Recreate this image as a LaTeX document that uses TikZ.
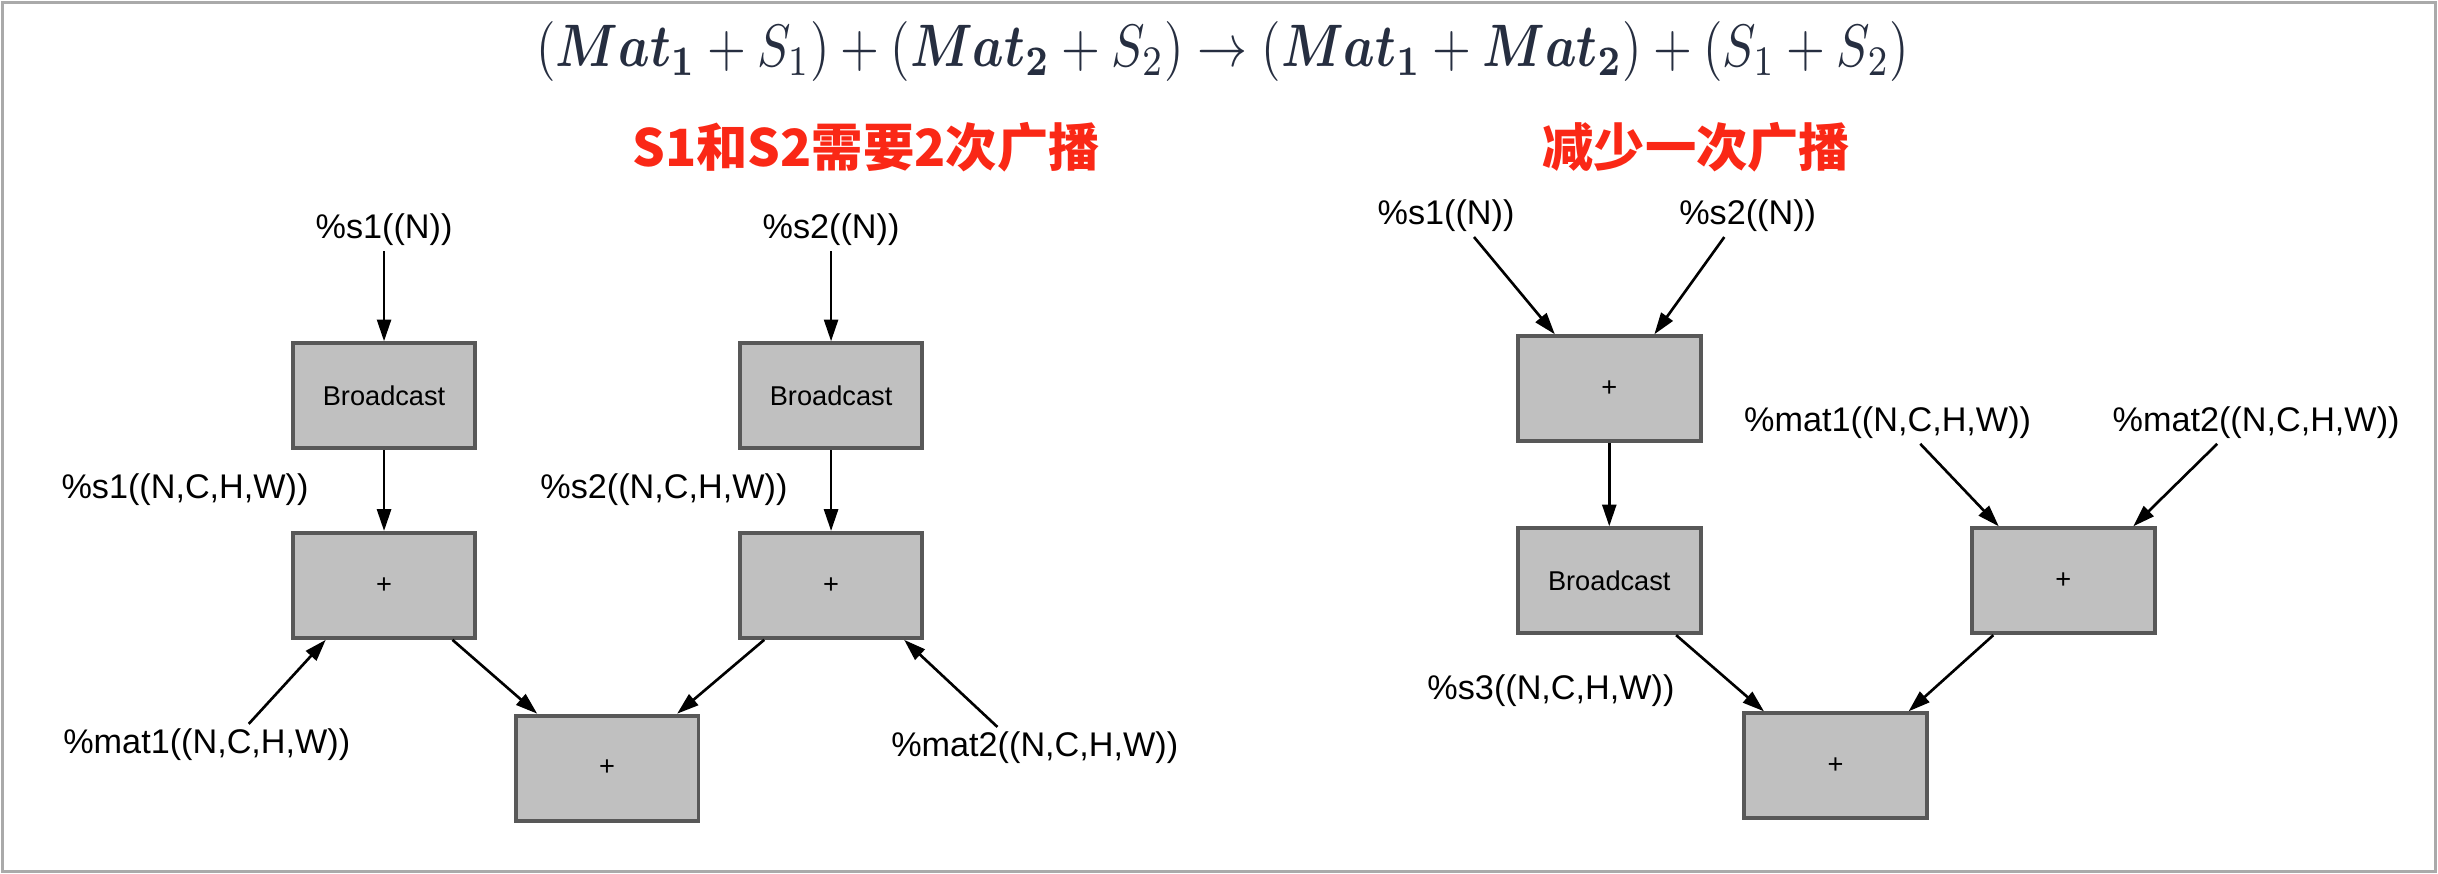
\documentclass[tikz,border=0pt]{standalone}
\usepackage{amsmath}
\usepackage{graphicx}
\usepackage{fontspec}
\setmainfont{Liberation Sans}
\newfontfamily\cjk{Noto Sans CJK SC}
\usetikzlibrary{arrows.meta}
\definecolor{boxfill}{RGB}{192,192,192}
\definecolor{boxdraw}{RGB}{88,88,88}
\definecolor{headred}{RGB}{250,40,22}
\definecolor{mathcol}{RGB}{38,46,64}
\definecolor{framecol}{RGB}{170,170,170}
\begin{document}
\begin{tikzpicture}[x=1pt,y=-1pt,
 opbox/.style={draw=boxdraw,fill=boxfill,line width=2.5pt,minimum width=117.5pt,minimum height=67.5pt,inner sep=0pt,font=\fontsize{17.5}{20}\selectfont},
 lbl/.style={inner sep=3pt,font=\fontsize{22}{26}\selectfont},
 conn/.style={-{Triangle[length=14pt,width=9pt]},line width=1.7pt},
 head/.style={text=headred,font=\cjk\bfseries\fontsize{33}{40}\selectfont}]
\path[use as bounding box] (0,0) rectangle (1568,562);
\draw[framecol,line width=2pt] (1.5,1.5) rectangle (1566.5,560.5);

% title and headings
\node[text=mathcol] (title) at (786.5,33) {\scalebox{1}[1.2]{\resizebox{883pt}{!}{$(\boldsymbol{Mat_1}+S_1)+(\boldsymbol{Mat_2}+S_2)\rightarrow(\boldsymbol{Mat_1}+\boldsymbol{Mat_2})+(S_1+S_2)$}}};
\node[head] (h1) at (557,95) {S1和S2需要2次广播};
\node[head] (h2) at (1091,95) {减少一次广播};

% left graph
\node[lbl] (s1n) at (247,148) {\%s1((N))};
\node[lbl] (s2n) at (534.5,148) {\%s2((N))};
\node[opbox] (b1) at (247,254.5) {Broadcast};
\node[opbox] (b2) at (534.5,254.5) {Broadcast};
\node[lbl] (s1c) at (119,315) {\%s1((N,C,H,W))};
\node[lbl] (s2c) at (427,315) {\%s2((N,C,H,W))};
\node[opbox] (p1) at (247,376.5) {+};
\node[opbox] (p2) at (534.5,376.5) {+};
\node[opbox] (p3) at (390.5,494) {+};
\node[lbl] (m1) at (133,479) {\%mat1((N,C,H,W))};
\node[lbl] (m2) at (665.5,481) {\%mat2((N,C,H,W))};

\draw[conn] (s1n) -- (b1);
\draw[conn] (s2n) -- (b2);
\draw[conn] (b1) -- (p1);
\draw[conn] (b2) -- (p2);
\draw[conn] ([xshift=44pt]p1.south) -- ([xshift=-45pt]p3.north);
\draw[conn] ([xshift=-43pt]p2.south) -- ([xshift=45pt]p3.north);
\draw[conn] ([xshift=27pt]m1.north) -- ([xshift=-37.5pt]p1.south);
\draw[conn] ([xshift=-24pt]m2.north) -- ([xshift=47pt]p2.south);

% right graph
\node[lbl] (rs1) at (930,139) {\%s1((N))};
\node[lbl] (rs2) at (1124,139) {\%s2((N))};
\node[opbox] (q1) at (1035,250) {+};
\node[opbox] (q2) at (1035,373.5) {Broadcast};
\node[lbl] (rm1) at (1214,272) {\%mat1((N,C,H,W))};
\node[lbl] (rm2) at (1451,272) {\%mat2((N,C,H,W))};
\node[opbox] (q3) at (1327,373.5) {+};
\node[lbl] (rs3) at (997.5,444) {\%s3((N,C,H,W))};
\node[opbox] (q4) at (1180.5,492.5) {+};

\draw[conn] ([xshift=18pt]rs1.south) -- ([xshift=-35pt]q1.north);
\draw[conn] ([xshift=-15pt]rs2.south) -- ([xshift=29pt]q1.north);
\draw[conn] (q1) -- (q2);
\draw[conn] ([xshift=21pt]rm1.south) -- ([xshift=-41.5pt]q3.north);
\draw[conn] ([xshift=-25pt]rm2.south) -- ([xshift=45pt]q3.north);
\draw[conn] ([xshift=43pt]q2.south) -- ([xshift=-46pt]q4.north);
\draw[conn] ([xshift=-45pt]q3.south) -- ([xshift=47pt]q4.north);
\end{tikzpicture}
\end{document}
